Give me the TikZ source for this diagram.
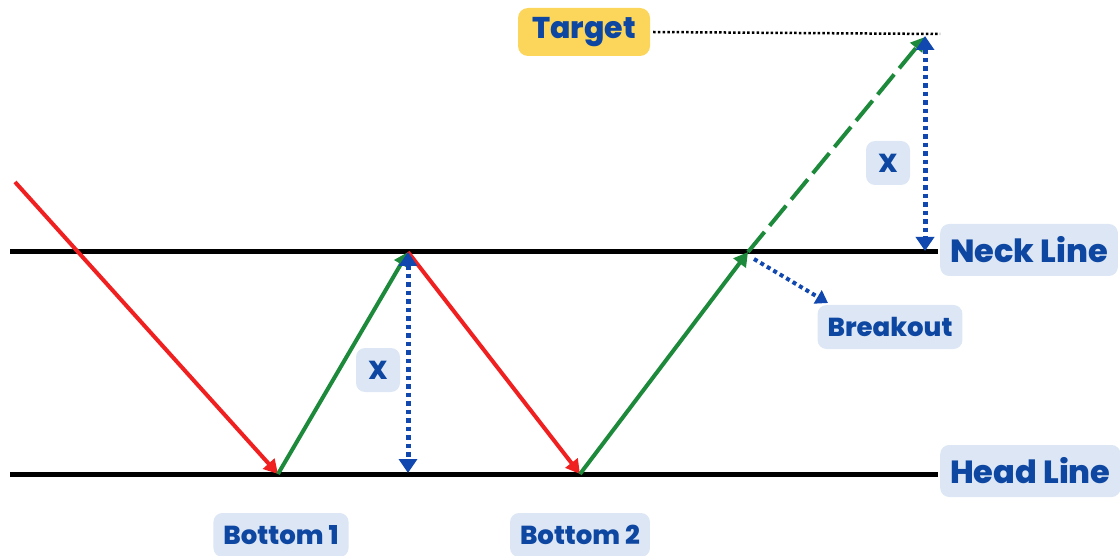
\documentclass[tikz,border=0pt]{standalone}
\usepackage{fontspec}
\setmainfont{Poppins}[BoldFont={Poppins ExtraBold}]
\usetikzlibrary{arrows.meta}
\definecolor{txtblue}{HTML}{0D47A1}
\definecolor{boxblue}{HTML}{DCE6F4}
\definecolor{tyellow}{HTML}{FCD65A}
\definecolor{pred}{HTML}{F02020}
\definecolor{pgreen}{HTML}{1C8A3A}
\definecolor{pblue}{HTML}{1148B0}
\tikzset{
  lbl/.style={fill=boxblue, rounded corners=9pt, text=txtblue, font=\bfseries\fontsize{26}{28}\selectfont, inner xsep=10pt, inner ysep=0pt, minimum height=44pt},
  biglbl/.style={lbl, font=\bfseries\fontsize{32}{34}\selectfont, inner xsep=10pt, minimum height=52pt},
  baseline/.style={line width=5pt, black},
  redln/.style={line width=4pt, pred, -{Triangle[width=15pt,length=14pt]}},
  greenln/.style={line width=4pt, pgreen, -{Triangle[width=15pt,length=14pt]}},
  measure/.style={line width=5pt, pblue, dash pattern=on 4.5pt off 4pt, {Triangle[width=18pt,length=14pt]}-{Triangle[width=18pt,length=14pt]}},
}
\begin{document}
\begin{tikzpicture}[x=1pt,y=-1pt]
\useasboundingbox (0,0) rectangle (1120,556);
% coordinates
\coordinate (nl0) at (10,252);
\coordinate (nl1) at (938,252);
\coordinate (hl0) at (10,474);
\coordinate (hl1) at (938,474);
\coordinate (start) at (15,182);
\coordinate (b1) at (278,474);
\coordinate (peak) at (408,252);
\coordinate (b2) at (580,474);
\coordinate (brk) at (748,252);
\coordinate (tgt) at (925,37);
\coordinate (tgtdot) at (940,34);
\coordinate (pktop) at (408,252);
\coordinate (pkbot) at (408,473);
\coordinate (xtop) at (925,36);
\coordinate (xbot) at (925,251);
\coordinate (brks) at (754,259);
\coordinate (brke) at (828,303);
% lines
\draw[baseline] (nl0) -- (nl1);
\draw[baseline] (hl0) -- (hl1);
% labels
\node[biglbl, anchor=west] (neck) at (940,250) {Neck Line};
\node[biglbl, anchor=west] (head) at (940,471) {Head Line};
\node[lbl, fill=tyellow, font=\bfseries\fontsize{30}{32}\selectfont, minimum height=48pt, minimum width=132pt, rounded corners=10pt] (target) at (584,32) {Target};
\node[lbl, minimum width=44pt] (x1) at (378,370) {X};
\node[lbl, minimum width=44pt] (x2) at (888,163) {X};
\node[lbl] (breakout) at (890,327) {Breakout};
\node[lbl] (bot1) at (281,535) {Bottom 1};
\node[lbl] (bot2) at (580,535) {Bottom 2};
% price path
\draw[redln] (start) -- (b1);
\draw[greenln] (b1) -- (peak);
\draw[redln] (peak) -- (b2);
\draw[greenln] (b2) -- (brk);
\draw[greenln, dash pattern=on 26pt off 8pt] (brk) -- (tgt);
% target dotted line
\draw[line width=2.5pt, black, dash pattern=on 2.5pt off 2.2pt] (target.east) ++(3,0) -- (tgtdot);
% measures
\draw[measure] (pktop) -- (pkbot);
\draw[measure] (xtop) -- (xbot);
\draw[line width=4pt, pblue, dash pattern=on 4pt off 3.5pt, -{Triangle[width=15pt,length=12pt]}] (brks) -- (brke);
\end{tikzpicture}
\end{document}
